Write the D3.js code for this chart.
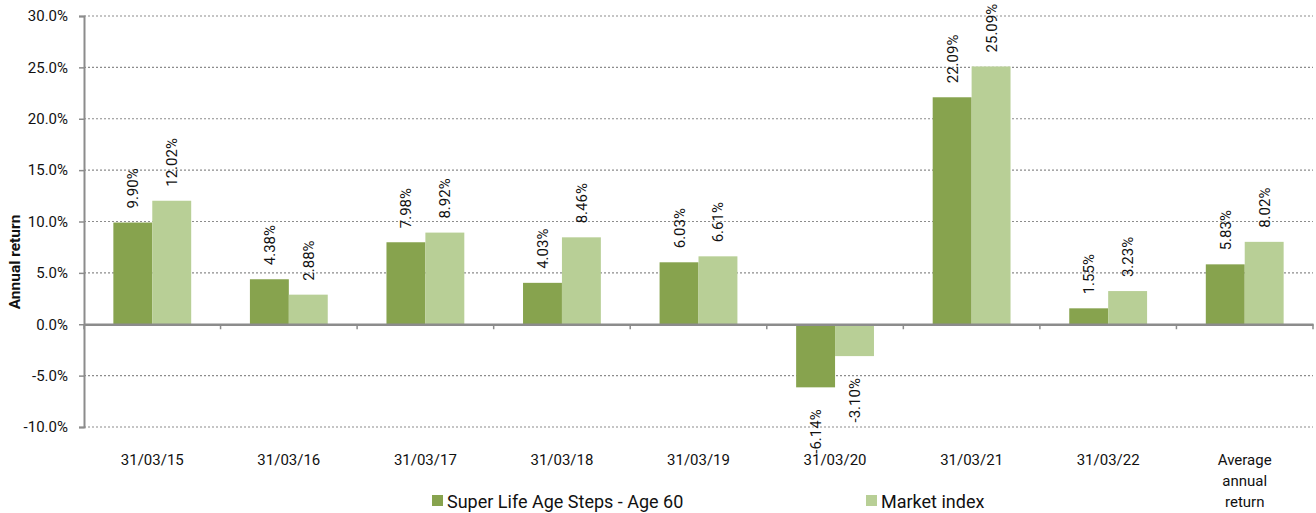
<!DOCTYPE html>
<html><head><meta charset="utf-8">
<script src="https://cdn.jsdelivr.net/npm/d3@7"></script>
<style>
html,body{margin:0;padding:0;background:#fff;}
svg{display:block;font-family:Roboto,"Liberation Sans",sans-serif;}
</style></head>
<body><svg id="c" width="1316" height="513"></svg>
<script>
const categories = ["31/03/15","31/03/16","31/03/17","31/03/18","31/03/19","31/03/20","31/03/21","31/03/22","Average annual return"];
const categoryLines = [["31/03/15"],["31/03/16"],["31/03/17"],["31/03/18"],["31/03/19"],["31/03/20"],["31/03/21"],["31/03/22"],["Average","annual","return"]];
const seriesNames = ["Super Life Age Steps - Age 60","Market index"];
const fundValues = [9.90,4.38,7.98,4.03,6.03,-6.14,22.09,1.55,5.83];
const marketValues = [12.02,2.88,8.92,8.46,6.61,-3.10,25.09,3.23,8.02];
const yTicks = [-10,-5,0,5,10,15,20,25,30];
const colors = ["#87A34E","#B8CF96"];

const fmt = (f)=> (v)=> d3.format(f)(v).replace("\u2212","-");
const svg = d3.select("#c");
const L = 84, R = 1313, T = 16, B = 427;
const y = d3.scaleLinear().domain([-10,30]).range([B,T]);
const x0 = d3.scaleBand().domain(categories).range([L,R]).paddingInner(0.43).paddingOuter(0.215);
const x1 = d3.scaleBand().domain([0,1]).range([0,x0.bandwidth()]);

// gridlines
svg.append("g").selectAll("line").data(yTicks.filter(t=>t!==0)).join("line")
  .attr("x1",L).attr("x2",R).attr("y1",d=>y(d)).attr("y2",d=>y(d))
  .attr("stroke","#8c8c8c").attr("stroke-width",1.2).attr("stroke-dasharray","2,2");

// y axis
const yAxis = d3.axisLeft(y).tickValues(yTicks).tickFormat(d=>fmt(".1f")(d)+"%").tickSize(5).tickPadding(11);
const ga = svg.append("g").attr("transform",`translate(${L},0)`).call(yAxis);
ga.select(".domain").attr("stroke","#8c8c8c").attr("stroke-width",2);
ga.selectAll(".tick line").attr("stroke","#8c8c8c").attr("stroke-width",1.5);
ga.selectAll(".tick text").attr("font-size",15).attr("fill","#111").attr("font-family","Roboto");

// bars
const data = categories.map((c,i)=>({c,i,vals:[fundValues[i],marketValues[i]]}));
const groups = svg.append("g").selectAll("g").data(data).join("g")
  .attr("transform",d=>`translate(${x0(d.c)},0)`);
groups.selectAll("rect").data(d=>d.vals.map((v,k)=>({v,k}))).join("rect")
  .attr("x",d=>x1(d.k)).attr("width",x1.bandwidth())
  .attr("y",d=>y(Math.max(0,d.v))).attr("height",d=>Math.abs(y(d.v)-y(0)))
  .attr("fill",d=>colors[d.k]);
groups.selectAll("text").data(d=>d.vals.map((v,k)=>({v,k}))).join("text")
  .attr("transform",d=>{
    const cx = x1(d.k)+x1.bandwidth()/2;
    const yy = d.v>=0 ? y(d.v)-14 : y(d.v)+22;
    return `translate(${cx+5.5},${yy}) rotate(-90)`;
  })
  .attr("text-anchor",d=>d.v>=0?"start":"end")
  .attr("font-size",15).attr("fill","#111")
  .text(d=>fmt(".2f")(d.v)+"%");

// x axis at zero
const xAxis = d3.axisBottom(x0).tickSize(0).tickFormat("");
const gx = svg.append("g").attr("transform",`translate(0,${y(0)})`).call(xAxis);
gx.select(".domain").attr("stroke","#8c8c8c").attr("stroke-width",2.5);
// boundary ticks
const bounds = d3.range(categories.length+1).map(i=>L+i*x0.step());
svg.append("g").selectAll("line").data(bounds).join("line")
  .attr("x1",d=>d).attr("x2",d=>d).attr("y1",y(0)).attr("y2",y(0)+5)
  .attr("stroke","#8c8c8c").attr("stroke-width",1.5);

// category labels
const cl = svg.append("g").selectAll("text").data(categories.map((c,i)=>({c,lines:categoryLines[i]}))).join("text")
  .attr("x",d=>x0(d.c)+x0.bandwidth()/2).attr("y",465)
  .attr("text-anchor","middle").attr("font-size",15).attr("fill","#111");
cl.selectAll("tspan").data(d=>d.lines.map(l=>({l,x:x0(d.c)+x0.bandwidth()/2}))).join("tspan")
  .attr("x",d=>d.x).attr("dy",(d,i)=>i===0?0:21).text(d=>d.l);

// y label
svg.append("text").attr("transform","translate(20,262) rotate(-90)")
  .attr("text-anchor","middle").attr("font-size",15.5).attr("font-weight","bold").attr("fill","#111")
  .text("Annual return");

// legend
const legX = [432,866];
const lg = svg.append("g").selectAll("g").data(seriesNames).join("g")
  .attr("transform",(d,i)=>`translate(${legX[i]},0)`);
lg.append("rect").attr("x",0).attr("y",495).attr("width",11).attr("height",11).attr("fill",(d,i)=>colors[i]);
lg.append("text").attr("x",15).attr("y",508).attr("font-size",18).attr("fill","#111").text(d=>d);
</script>
</body></html>
